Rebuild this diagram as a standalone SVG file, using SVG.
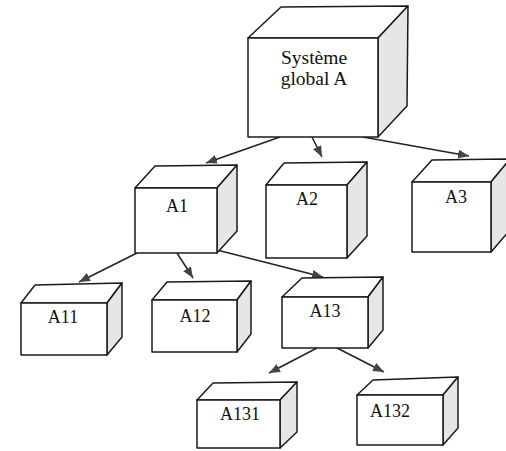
<svg xmlns="http://www.w3.org/2000/svg" width="506" height="451" viewBox="0 0 506 451">
  <defs>
    <marker id="arrow" viewBox="0 0 11 9" refX="11" refY="4.5" markerWidth="11" markerHeight="9" markerUnits="userSpaceOnUse" orient="auto">
      <path d="M0,0 L11,4.5 L0,9 Z" fill="#444"/>
    </marker>
  </defs>
  <style>
    .front { fill: #ffffff; stroke: #1a1a1a; stroke-width: 1.5; stroke-linejoin: round; }
    .top { fill: #ffffff; stroke: #1a1a1a; stroke-width: 1.5; stroke-linejoin: round; }
    .side { fill: #e6e6e6; stroke: #1a1a1a; stroke-width: 1.5; stroke-linejoin: round; }
    .lbl { font-family: "Liberation Serif", "Times New Roman", serif; font-size: 18px; fill: #111; text-anchor: middle; }
    .big { font-size: 19.5px; }
    .edge { fill: none; stroke: #222; stroke-width: 1.5; marker-end: url(#arrow); }
  </style>
  <rect width="506" height="451" fill="#ffffff"/>

  <!-- connectors -->
  <g id="connectors">
    <line class="edge" x1="280" y1="137" x2="206" y2="163"/>
    <line class="edge" x1="312" y1="137" x2="322" y2="157"/>
    <line class="edge" x1="363" y1="137" x2="469" y2="156"/>
    <line class="edge" x1="137" y1="253" x2="79" y2="282"/>
    <line class="edge" x1="177" y1="253" x2="193" y2="278"/>
    <line class="edge" x1="217" y1="250" x2="323" y2="277"/>
    <line class="edge" x1="317" y1="348" x2="269" y2="373"/>
    <line class="edge" x1="337" y1="348" x2="384" y2="372"/>
  </g>

  <!-- Système global A -->
  <g id="node-A">
    <path class="top" d="M248,38 L281,7 L408,6 L378,38 Z"/>
    <path class="side" d="M378,38 L408,6 L407,106 L378,137 Z"/>
    <path class="front" d="M248,38 L378,38 L378,137 L248,137 Z"/>
    <text class="lbl big" x="314" y="64">Système</text>
    <text class="lbl big" x="314" y="85">global A</text>
  </g>

  <g id="node-A1">
    <path class="top" d="M135,188 L155,166 L237,165 L217,188 Z"/>
    <path class="side" d="M217,188 L237,165 L237,231 L217,253 Z"/>
    <path class="front" d="M135,188 L217,188 L217,253 L135,253 Z"/>
    <text class="lbl" x="177" y="212">A1</text>
  </g>

  <g id="node-A2">
    <path class="top" d="M266,185 L284,163 L367,162 L347,185 Z"/>
    <path class="side" d="M347,185 L367,162 L367,236 L347,258 Z"/>
    <path class="front" d="M266,185 L347,185 L347,258 L266,258 Z"/>
    <text class="lbl" x="307" y="205">A2</text>
  </g>

  <g id="node-A3">
    <path class="top" d="M412,182 L432,160 L510,159 L491,182 Z"/>
    <path class="side" d="M491,182 L510,159 L510,230 L491,252 Z"/>
    <path class="front" d="M412,182 L491,182 L491,252 L412,252 Z"/>
    <text class="lbl" x="456" y="203">A3</text>
  </g>

  <g id="node-A11">
    <path class="top" d="M21,303 L35,285 L122,283 L107,303 Z"/>
    <path class="side" d="M107,303 L122,283 L122,337 L107,355 Z"/>
    <path class="front" d="M21,303 L107,303 L107,355 L21,355 Z"/>
    <text class="lbl" x="63" y="323">A11</text>
  </g>

  <g id="node-A12">
    <path class="top" d="M152,300 L167,282 L251,281 L237,300 Z"/>
    <path class="side" d="M237,300 L251,281 L251,334 L237,352 Z"/>
    <path class="front" d="M152,300 L237,300 L237,352 L152,352 Z"/>
    <text class="lbl" x="195" y="322">A12</text>
  </g>

  <g id="node-A13">
    <path class="top" d="M282,297 L302,278 L383,277 L368,297 Z"/>
    <path class="side" d="M368,297 L383,277 L383,330 L368,348 Z"/>
    <path class="front" d="M282,297 L368,297 L368,348 L282,348 Z"/>
    <text class="lbl" x="325" y="317">A13</text>
  </g>

  <g id="node-A131">
    <path class="top" d="M197,400 L213,383 L297,382 L280,400 Z"/>
    <path class="side" d="M280,400 L297,382 L297,432 L280,448 Z"/>
    <path class="front" d="M197,400 L280,400 L280,448 L197,448 Z"/>
    <text class="lbl" x="240" y="420">A131</text>
  </g>

  <g id="node-A132">
    <path class="top" d="M357,395 L373,380 L458,377 L443,395 Z"/>
    <path class="side" d="M443,395 L458,377 L458,428 L443,445 Z"/>
    <path class="front" d="M357,395 L443,395 L443,445 L357,445 Z"/>
    <text class="lbl" x="390" y="417">A132</text>
  </g>
</svg>
